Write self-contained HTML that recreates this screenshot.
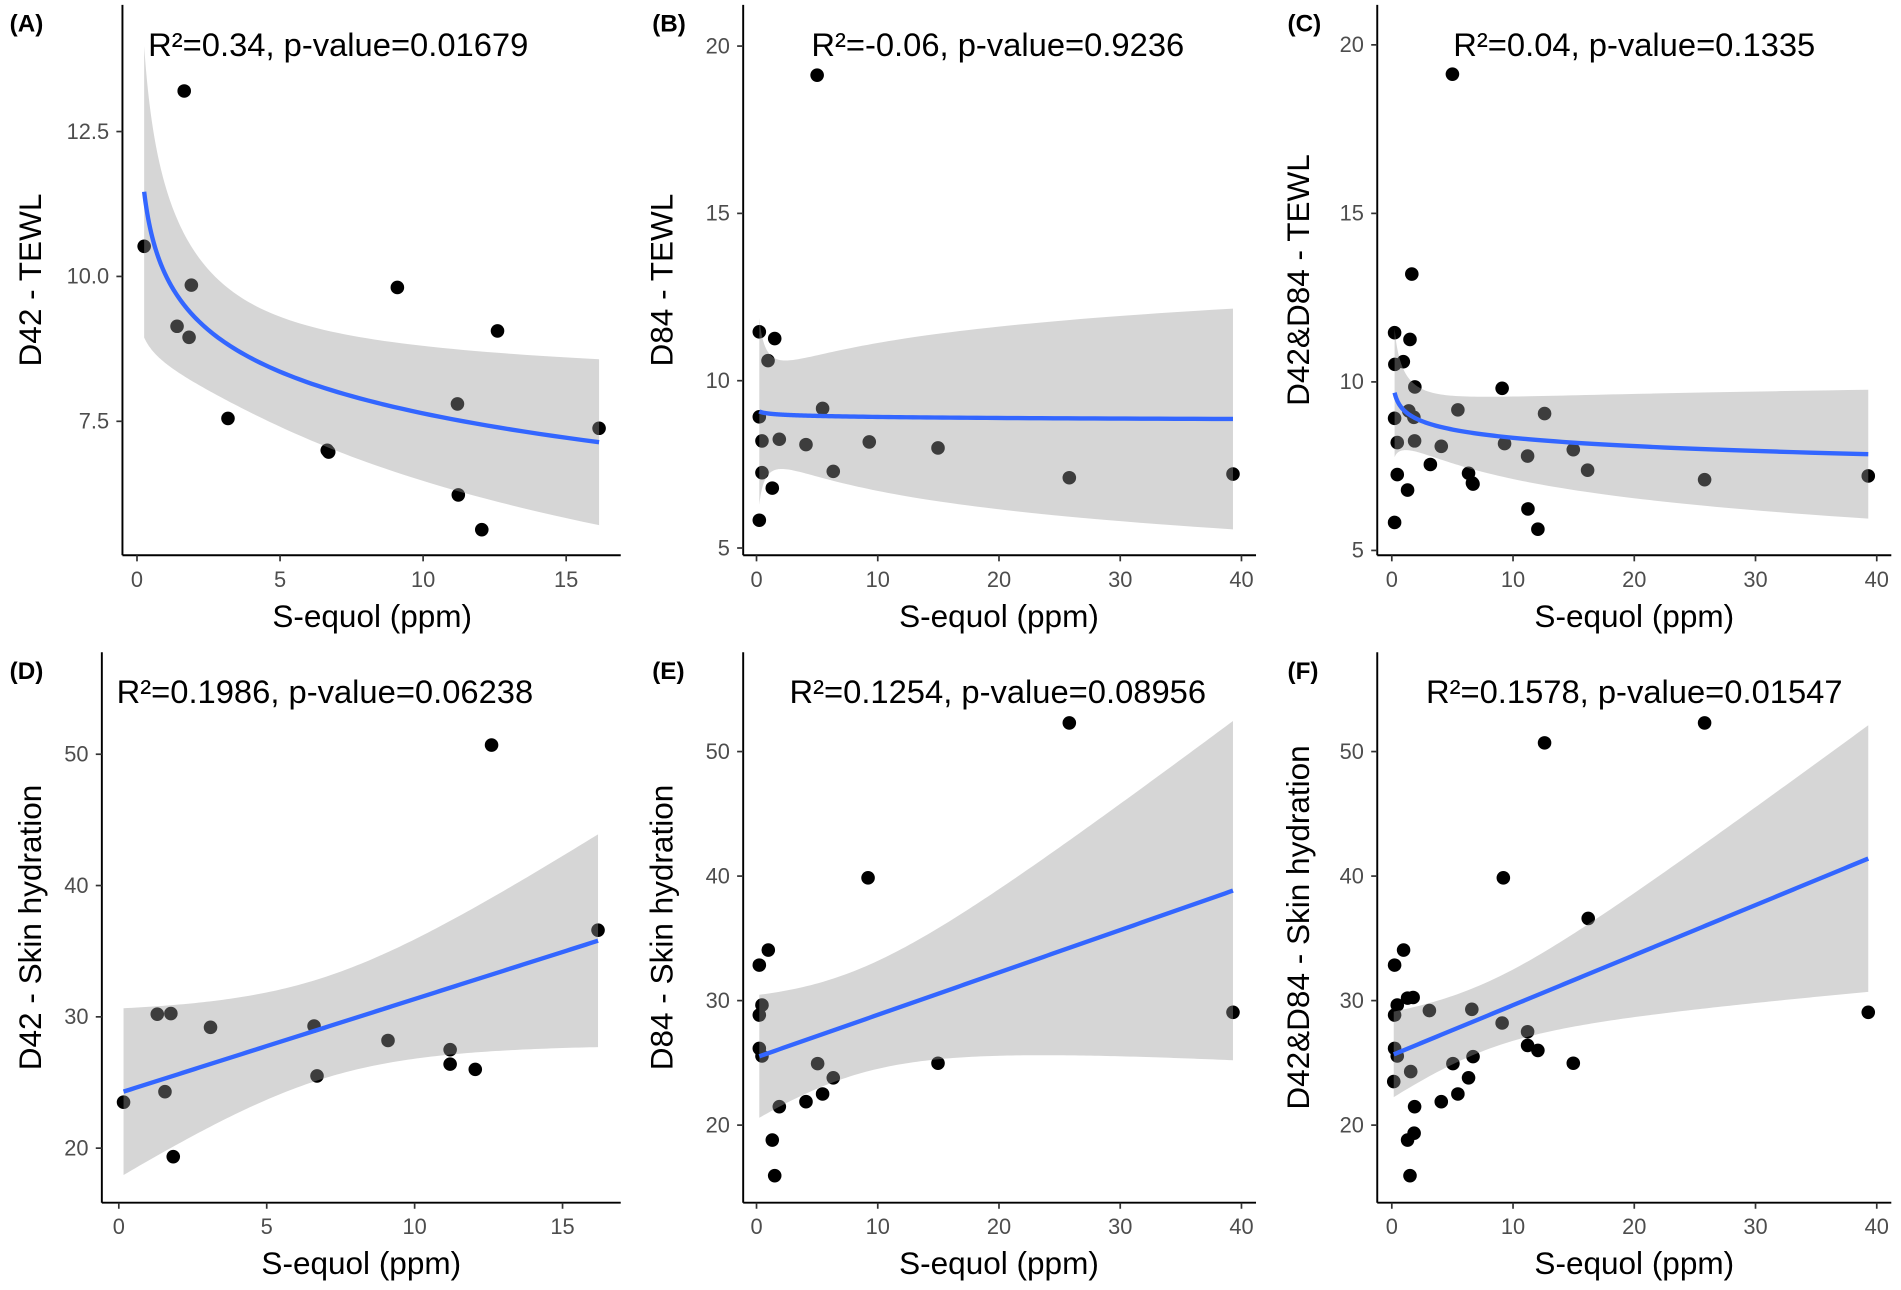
<!DOCTYPE html>
<html><head><meta charset="utf-8"><style>
html,body{margin:0;padding:0;background:#fff}
svg{display:block}
text{font-family:"Liberation Sans",sans-serif}
</style></head><body>
<svg id="fig" width="1901" height="1290" viewBox="0 0 1568 1064" preserveAspectRatio="none" xmlns="http://www.w3.org/2000/svg"></svg>
<script>
// ---- data ----
const aX=[0.25,1.65,1.4,1.82,1.9,3.18,6.65,6.7,9.1,11.2,11.23,12.6,12.05,16.15];
const aY=[10.52,13.2,9.14,8.95,9.85,7.55,7.0,6.97,9.81,7.8,6.23,9.06,5.63,7.38];
const bX=[0.23,1.5,0.95,5.45,0.23,0.45,1.88,4.08,9.3,14.97,0.45,6.33,1.3,0.23,5.0,25.8,39.3];
const bY=[11.46,11.26,10.6,9.17,8.92,8.2,8.25,8.09,8.17,7.99,7.25,7.29,6.79,5.83,19.13,7.1,7.21];
const cX=[0.25,1.65,1.4,1.82,1.9,3.18,6.65,6.7,9.1,11.2,11.23,12.6,12.05,16.15,0.23,1.5,0.95,5.45,0.23,0.45,1.88,4.08,9.3,14.97,0.45,6.33,1.3,0.23,5.0,25.8,39.3];
const cY=[10.52,13.2,9.14,8.95,9.85,7.55,7.0,6.97,9.81,7.8,6.23,9.06,5.63,7.38,11.46,11.26,10.6,9.17,8.92,8.2,8.25,8.09,8.17,7.99,7.25,7.29,6.79,5.83,19.13,7.1,7.21];
const dX=[0.16,1.3,1.76,1.56,1.84,3.1,6.6,6.7,9.1,11.2,11.2,12.05,12.6,16.2];
const dY=[23.5,30.2,30.25,24.3,19.35,29.2,29.3,25.5,28.2,26.4,27.5,26.0,50.7,36.6];
const eX=[0.97,0.23,0.45,0.23,0.23,0.45,5.04,14.97,6.33,5.45,4.08,1.88,1.3,1.5,9.2,25.8,39.3];
const eY=[34.06,32.85,29.64,28.84,26.16,25.55,24.94,24.97,23.8,22.5,21.88,21.48,18.8,15.94,39.86,52.3,29.06];
const fX=[0.16,1.3,1.76,1.56,1.84,3.1,6.6,6.7,9.1,11.2,11.2,12.05,12.6,16.2,0.97,0.23,0.45,0.23,0.23,0.45,5.04,14.97,6.33,5.45,4.08,1.88,1.3,1.5,9.2,25.8,39.3];
const fY=[23.5,30.2,30.25,24.3,19.35,29.2,29.3,25.5,28.2,26.4,27.5,26.0,50.7,36.6,34.06,32.85,29.64,28.84,26.16,25.55,24.94,24.97,23.8,22.5,21.88,21.48,18.8,15.94,39.86,52.3,29.06];
const xTicks15=[0,5,10,15];
const xTicks40=[0,10,20,30,40];
const yTicksA=[7.5,10.0,12.5];
const yTicksA_labels=["7.5","10.0","12.5"];
const yTicksBC=[5,10,15,20];
const yTicksDEF=[20,30,40,50];
const statLabels=["R²=0.34, p-value=0.01679","R²=-0.06, p-value=0.9236","R²=0.04, p-value=0.1335","R²=0.1986, p-value=0.06238","R²=0.1254, p-value=0.08956","R²=0.1578, p-value=0.01547"];
const panelLetters=["(A)","(B)","(C)","(D)","(E)","(F)"];
const yTitles=["D42 - TEWL","D84 - TEWL","D42&D84 - TEWL","D42 - Skin hydration","D84 - Skin hydration","D42&D84 - Skin hydration"];

const NS="http://www.w3.org/2000/svg";
const svg=document.getElementById('fig');
function mk(tag,attrs,parent,txt){const e=document.createElementNS(NS,tag);for(const k in attrs)e.setAttribute(k,attrs[k]);if(txt!==undefined)e.textContent=txt;(parent||svg).appendChild(e);return e;}
function tq(df){if(df>=29)return 2.045;if(df>=15)return 2.131;if(df>=12)return 2.179;return 2.2;}

const panels=[
 {xs:aX,ys:aY,log:true,ax:101,bot:458,right:512,x0:113,xk:23.6,yRef:10,yRefPx:228,yk:47.8,xt:xTicks15,yt:yTicksA,ytl:yTicksA_labels,ox:0,oy:0,ytx:27,xtc:307,stc:279,sty:46},
 {xs:bX,ys:bY,log:true,ax:613,bot:458,right:1036,x0:624,xk:10,yRef:5,yRefPx:452,yk:27.6,xt:xTicks40,yt:yTicksBC,ox:530,oy:0,ytx:548,xtc:824,stc:823,sty:46},
 {xs:cX,ys:cY,log:true,ax:1136,bot:458,right:1560,x0:1148,xk:10,yRef:5,yRefPx:454,yk:27.8,xt:xTicks40,yt:yTicksBC,ox:1054,oy:0,ytx:1073,xtc:1348,stc:1348,sty:46},
 {xs:dX,ys:dY,log:false,ax:84,bot:992,right:512,x0:98,xk:24.4,yRef:20,yRefPx:947,yk:10.83,xt:xTicks15,yt:yTicksDEF,ox:0,oy:534,ytx:27,xtc:298,stc:268,sty:580},
 {xs:eX,ys:eY,log:false,ax:613,bot:992,right:1036,x0:624,xk:10,yRef:20,yRefPx:928,yk:10.27,xt:xTicks40,yt:yTicksDEF,ox:530,oy:534,ytx:548,xtc:824,stc:823,sty:580},
 {xs:fX,ys:fY,log:false,ax:1136,bot:992,right:1560,x0:1148,xk:10,yRef:20,yRefPx:928,yk:10.27,xt:xTicks40,yt:yTicksDEF,ox:1054,oy:534,ytx:1073,xtc:1348,stc:1348,sty:580}
];

panels.forEach((p,i)=>{
  const g=mk('g',{});
  
  
  const X=v=>p.x0+p.xk*v, Y=v=>p.yRefPx-p.yk*(v-p.yRef);
  const top=p.oy+4;
  const pg=mk('g',{},g);
  
  
  p.xs.forEach((x,j)=>{
    const c=mk('circle',{cx:X(x),cy:Y(p.ys[j]),r:5.6,fill:'#000'},pg);
    
    
  });
  const tr=v=>p.log?Math.log(v):v;
  const n=p.xs.length, lx=p.xs.map(tr);
  const mx=lx.reduce((a,b)=>a+b,0)/n, my=p.ys.reduce((a,b)=>a+b,0)/n;
  let sxx=0,sxy=0;lx.forEach((v,j)=>{sxx+=(v-mx)**2;sxy+=(v-mx)*(p.ys[j]-my);});
  const b=sxy/sxx,a=my-b*mx;
  let sse=0;lx.forEach((v,j)=>{sse+=(p.ys[j]-a-b*v)**2;});
  const s=Math.sqrt(sse/(n-2)),t=tq(n-2);
  const xmin=Math.min(...p.xs),xmax=Math.max(...p.xs);
  const N=120,line=[],up=[],lo=[];
  for(let k=0;k<=N;k++){
    const u=tr(xmin)+(tr(xmax)-tr(xmin))*k/N;
    const x=p.log?Math.exp(u):u;
    const f=a+b*u, se=s*Math.sqrt(1/n+(u-mx)**2/sxx);
    line.push([X(x),Y(f)]);up.push([X(x),Y(f+t*se)]);lo.push([X(x),Y(f-t*se)]);
  }
  const band=up.concat(lo.reverse()).map(q=>q.join(',')).join(' ');
  const rb=mk('polygon',{points:band,fill:'#999999','fill-opacity':0.4},g);
  
  
  const ln=mk('polyline',{points:line.map(q=>q.join(',')).join(' '),fill:'none',stroke:'#3366FF','stroke-width':3.6},g);
  
  
  const ya=mk('line',{x1:p.ax,y1:top,x2:p.ax,y2:p.bot,stroke:'#000','stroke-width':1.6},g);
  
  
  const xa=mk('line',{x1:p.ax,y1:p.bot,x2:p.right,y2:p.bot,stroke:'#000','stroke-width':1.6},g);
  
  
  p.xt.forEach(v=>{
    mk('line',{x1:X(v),y1:p.bot,x2:X(v),y2:p.bot+5,stroke:'#333','stroke-width':1.4},g);
    const tl=mk('text',{x:X(v),y:p.bot+26,'text-anchor':'middle','font-size':18,fill:'#4d4d4d'},g,String(v));
    
    
  });
  p.yt.forEach((v,j)=>{
    mk('line',{x1:p.ax-5,y1:Y(v),x2:p.ax,y2:Y(v),stroke:'#333','stroke-width':1.4},g);
    const tl=mk('text',{x:p.ax-11,y:Y(v)+6,'text-anchor':'end','font-size':18,fill:'#4d4d4d'},g,p.ytl?p.ytl[j]:String(v));
    
    
  });
  const xt=mk('text',{x:p.xtc,y:p.bot+59,'text-anchor':'middle','font-size':26,fill:'#000'},g,'S-equol (ppm)');
  
  
  const cy=(top+p.bot)/2;
  const yt=mk('text',{x:p.ytx,y:cy,'text-anchor':'middle','font-size':26,fill:'#000',transform:'rotate(-90 '+(p.ytx)+' '+cy+')','dominant-baseline':'middle'},g,yTitles[i]);
  
  
  const st=mk('text',{x:p.stc,y:p.sty,'text-anchor':'middle','font-size':27,fill:'#000'},g,statLabels[i]);
  
  
  const pl=mk('text',{x:p.ox+8,y:p.oy+26,'font-size':20,'font-weight':'bold',fill:'#000'},g,panelLetters[i]);
  
  
});
</script>
</body></html>
